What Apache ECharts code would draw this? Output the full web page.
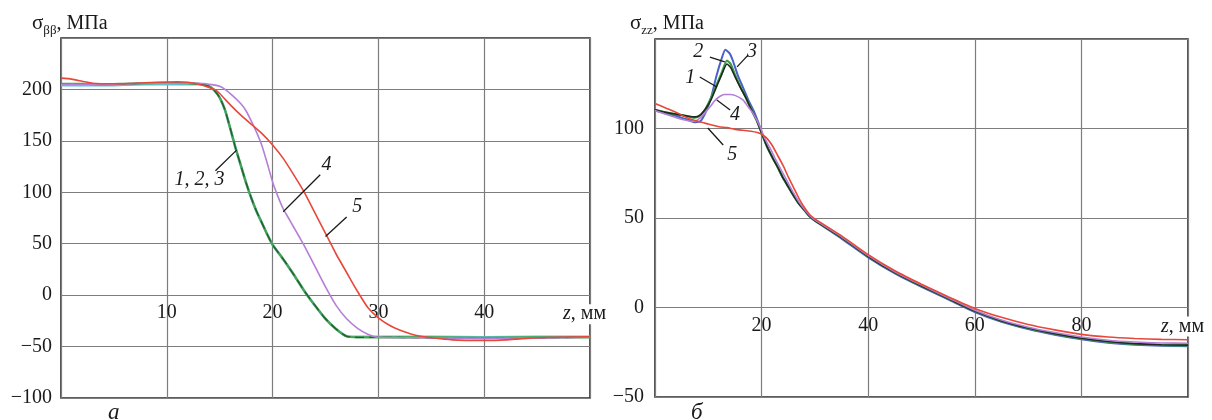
<!DOCTYPE html>
<html><head><meta charset="utf-8">
<script src="https://cdn.jsdelivr.net/npm/echarts@6/dist/echarts.min.js"></script>
<style>html,body{margin:0;padding:0;background:#fff}#c{width:1212px;height:420px}</style>
</head><body><div id="c"></div>
<script>
// ---------- data: left panel (а) sigma_beta-beta vs z ----------
const leftS1 = [[0,205],[2,205],[4,205],[6,205.5],[8,206],[10,206],[12,206],[13,205.5],[14,203],[14.5,199],[15,192],[15.5,180],[16,162],[16.5,143],[17,126],[17.5,109],[18,94],[18.5,81],[19,70],[19.5,59],[20,49],[21,35],[22,20],[23,4],[24,-10],[25,-23],[26,-33],[27,-40],[28,-41],[30,-41],[35,-41.5],[40,-42],[45,-41.5],[50,-41]];
const leftS2 = [[0,205.5],[2,205.5],[4,205],[6,205.5],[8,206],[10,206.5],[12,206],[13,205.5],[14,203],[14.5,199],[15,192],[15.5,180],[16,162],[16.5,143],[17,126],[17.5,109],[18,94],[18.5,81],[19,70],[19.5,59],[20,49],[21,35],[22,20],[23,4],[24,-10],[25,-23],[26,-33],[27,-40],[28,-41],[30,-41],[35,-41],[40,-41.5],[45,-41],[50,-41]];
const leftS3 = [[0,204],[2,204],[4,204],[6,204.5],[8,205],[10,205],[12,205],[13,205],[14,203],[14.5,199],[15,192],[15.5,180],[16,162],[16.5,143],[17,126],[17.5,109],[18,94],[18.5,81],[19,70],[19.5,59],[20,49],[21,35],[22,20],[23,4],[24,-10],[25,-23],[26,-33],[27,-40],[28,-40.5],[30,-40.5],[35,-40.5],[40,-41],[45,-40.5],[50,-40.5]];
const leftS4 = [[0,205],[2,205],[4,205],[6,205.5],[8,206],[10,206],[12,206],[13,206],[14,205],[15,203],[16,196],[17,186],[17.5,179],[18,169],[18.5,158],[19,145],[19.5,128],[20,110],[20.5,96],[21,84],[21.5,75],[22,66],[22.5,57],[23,48],[24,28],[25,8],[26,-10],[27,-23],[28,-32],[29,-38],[30,-41],[35,-41.5],[40,-42],[45,-41.5],[50,-41]];
const leftS5 = [[0,211],[1,210],[2,208],[3,206],[5,205.5],[7,206],[9,207],[11,207.5],[12,207],[13,205],[14,202],[14.5,200],[15,196],[16,185],[17,175],[18,166],[19,157],[20,146],[21,133],[22,117],[23,100],[24,80],[25,60],[26,40],[27,22],[28,4],[29,-12],[30,-22],[31,-29],[32,-34],[33,-37.5],[34,-40],[35,-41.5],[37,-43.5],[40,-44],[42,-43.5],[44,-42],[47,-41],[50,-40.5]];

// ---------- data: right panel (б) sigma_zz vs z ----------
const rightS1 = [[0,110.5],[2,109],[4,108],[6,107],[7.5,106.5],[8.5,107.5],[9.5,111],[10.5,116],[11.5,123],[12.5,130],[13.5,136],[14.2,134],[15,129],[16,123],[17,117.5],[18,111],[19,105],[20,97.5],[21,90],[22,84],[23,78.5],[24,72.5],[25,67.5],[26,62.5],[27,58],[28,54.5],[29,51],[30,48.5],[35,39],[40,28.5],[45,19.5],[50,12],[55,5],[60,-2],[65,-7.5],[70,-11.5],[75,-14.7],[80,-17.2],[85,-19],[90,-20.2],[95,-20.8],[100,-21]];
const rightS2 = [[0,110.5],[2,109],[4,108],[6,107],[7.5,106],[8.5,107.5],[9.5,111],[10.5,117],[11.5,124],[12.5,131],[13.5,138],[14.2,136],[15,130],[16,123.5],[17,117.5],[18,111],[19,105],[20,97.5],[21,90],[22,84],[23,78.5],[24,72.5],[25,67.5],[26,62.5],[27,58],[28,54.5],[29,51],[30,48.5],[35,39],[40,28.5],[45,19.5],[50,12],[55,5],[60,-2],[65,-7.5],[70,-11.5],[75,-14.7],[80,-17.3],[85,-19.2],[90,-20.4],[95,-21],[100,-21.2]];
const rightS3 = [[0,110],[2,108.5],[4,107],[6,105],[7.5,103.5],[8.5,104],[9.5,109],[10.5,117],[11.5,129],[12.5,139],[13.2,144],[14,142],[14.6,138],[15.5,130],[16.5,123],[17.5,116],[18.5,110],[19.3,104],[20,98],[21,90],[22,84],[23,78.5],[24,72.5],[25,67.5],[26,62.5],[27,58],[28,54.5],[29,51],[30,48.5],[35,38.5],[40,28],[45,19],[50,11.5],[55,4.5],[60,-2.5],[65,-8],[70,-12],[75,-15.2],[80,-17.8],[85,-19.7],[90,-20.8],[95,-21.4],[100,-21.6]];
const rightS4 = [[0,110],[2,108],[4,106],[6,104.5],[7.1,104],[8,104.8],[9,107.5],[10.3,112],[11.2,115.5],[12.2,118],[13,119],[14.1,119],[15,118.5],[16.5,116],[17.5,112],[18.4,108.5],[19.7,101],[20.5,95],[21.6,89],[22.5,83.5],[24,75],[25,69.5],[26,64],[27,59],[28,55],[29,51.5],[30,49],[35,39.5],[40,29],[45,20],[50,12.5],[55,5.5],[60,-1.5],[65,-7],[70,-11],[75,-14],[80,-16.5],[85,-18.3],[90,-19.3],[95,-19.8],[100,-20]];
const rightS5 = [[0,114],[2,111.5],[4,109],[6,106],[8,104],[10,102.5],[12,101],[13.5,100.5],[15,99.5],[16.5,99],[18,98.5],[19.2,97.8],[20,96.8],[21,94.5],[22,90.5],[23,85],[24,79.5],[25,73],[26,67],[27,61],[28,56],[29,52],[30,49.5],[35,40],[40,29.5],[45,20.5],[50,13],[55,6],[60,-0.5],[65,-5.5],[70,-9.5],[75,-12.5],[80,-15],[85,-16.5],[90,-17.3],[95,-17.8],[100,-18]];

// ---------- axes ----------
const leftX = {min:0, max:50, step:10};
const leftY = {min:-100, max:250, step:50};
const rightX = {min:0, max:100, step:20};
const rightY = {min:-50, max:150, step:50};

// ---------- annotations (data coordinates) ----------
const leftLabels = [{t:'1, 2, 3', x:13.1, y:112}, {t:'4', x:25.1, y:126.5}, {t:'5', x:28.0, y:85.6}];
const leftLeaders = [[14.6,121,16.6,141],[21.0,81,24.5,117],[25.0,57,27.0,76]];
const rightLabels = [{t:'2', x:8.1, y:142.7}, {t:'3', x:18.2, y:142.7}, {t:'1', x:6.6, y:128.2}, {t:'4', x:15.0, y:107.5}, {t:'5', x:14.5, y:85.2}];
const rightLeaders = [[10.3,139.9,13.1,137.2],[17.5,141.1,15.4,134.4],[8.4,128.8,11.6,123.2],[14.1,110.3,11.6,115.9],[12.8,90.8,9.9,100.3]];

const FONT = '"Liberation Serif","DejaVu Serif",serif';
const GRIDC = '#7d7d7d';
const TXT = '#1a1a1a';
const COLORS = {s1:'#1d2b1f', s2:'#3d9a47', s3:'#4a62c6', s4:'#b47fd6', s5:'#e8483a'};
const LCOLORS = {s1:'#2a5a30', s2:'#46a34c', s3:'#5fc2cf', s4:'#b47fd6', s5:'#e8483a'};

const GRIDS = [
  {left: 61, top: 38, width: 529, height: 360},
  {left: 655, top: 39, width: 533, height: 358}
];

const minus = v => String(v).replace('-', '\u2212');

// x axis drawn at the y = 0 level: offset from the bottom edge by the scale position of zero
function xAxisDef(gi, ax, yax) {
  const zeroOffset = -GRIDS[gi].height * (0 - yax.min) / (yax.max - yax.min);
  return {
    gridIndex: gi, type: 'value', min: ax.min, max: ax.max, interval: ax.step,
    position: 'bottom', offset: zeroOffset,
    axisLine: {show: false, onZero: false},
    axisTick: {show: false},
    splitLine: {show: true, lineStyle: {color: GRIDC, width: 1.2}},
    axisLabel: {margin: 8, fontFamily: FONT, fontSize: 20, color: TXT,
      formatter: v => (v === ax.min || v === ax.max) ? '' : minus(v)},
    name: '{i|z}{n|, мм}', nameLocation: 'end', nameGap: -28,
    nameTextStyle: {verticalAlign: 'top', padding: [10, 0, 0, 0],
      rich: {i: {fontFamily: FONT, fontSize: 20, fontStyle: 'italic', color: TXT, lineHeight: 18, backgroundColor: '#fff', padding: [0, 0, 0, 1]},
             n: {fontFamily: FONT, fontSize: 20, color: TXT, lineHeight: 18, backgroundColor: '#fff', padding: [0, 1, 0, 0]}}}
  };
}
function yAxisDef(gi, ax, margin) {
  return {
    gridIndex: gi, type: 'value', min: ax.min, max: ax.max, interval: ax.step,
    axisLine: {show: false, onZero: false}, axisTick: {show: false},
    splitLine: {show: true, lineStyle: {color: GRIDC, width: 1.2}},
    axisLabel: {margin: margin, fontFamily: FONT, fontSize: 20, color: TXT,
      formatter: v => v === ax.max ? '' : minus(v)}
  };
}
function lineSeries(gi, data, color, width, extra) {
  return Object.assign({
    type: 'line', xAxisIndex: gi, yAxisIndex: gi, data: data, showSymbol: false, smooth: 0.2,
    lineStyle: {color: color, width: width}, itemStyle: {color: color}, silent: true
  }, extra || {});
}
function annot(labels, leaders) {
  return {
    markPoint: {symbol: 'circle', symbolSize: 1, itemStyle: {color: 'rgba(0,0,0,0)'}, silent: true,
      label: {show: true, position: 'inside', formatter: p => p.name, fontFamily: FONT, fontStyle: 'italic', fontSize: 20, color: TXT},
      data: labels.map(l => ({name: l.t, coord: [l.x, l.y]}))},
    markLine: {symbol: ['none', 'none'], silent: true, label: {show: false},
      lineStyle: {color: TXT, width: 1.3, type: 'solid'},
      emphasis: {disabled: true},
      data: leaders.map(l => [{coord: [l[0], l[1]]}, {coord: [l[2], l[3]]}])}
  };
}

const titleRich = {
  s: {fontFamily: FONT, fontSize: 21, fontWeight: 'normal', color: TXT},
  b: {fontFamily: FONT, fontSize: 13, fontWeight: 'normal', color: TXT, verticalAlign: 'bottom', padding: [0, 0, -3, 0]},
  n: {fontFamily: FONT, fontSize: 20, fontWeight: 'normal', color: TXT}
};

const chart = echarts.init(document.getElementById('c'), null, {renderer: 'canvas'});
chart.setOption({
  animation: false,
  backgroundColor: '#fff',
  title: [
    {text: '{s|σ}{b|ββ}{n|, МПа}', left: 27, top: 8, textStyle: {fontWeight: 'normal', rich: titleRich}},
    {text: '{s|σ}{b|zz}{n|, МПа}', left: 625, top: 8, textStyle: {fontWeight: 'normal', rich: titleRich}},
    {text: 'а', left: 103, top: 396, textStyle: {fontFamily: FONT, fontStyle: 'italic', fontWeight: 'normal', fontSize: 23, color: TXT}},
    {text: 'б', left: 686, top: 396, textStyle: {fontFamily: FONT, fontStyle: 'italic', fontWeight: 'normal', fontSize: 23, color: TXT}}
  ],
  grid: GRIDS.map(g => Object.assign({show: true, borderColor: '#2a2a2a', borderWidth: 1.6, backgroundColor: 'rgba(0,0,0,0)'}, g)),
  xAxis: [xAxisDef(0, leftX, leftY), xAxisDef(1, rightX, rightY)],
  yAxis: [yAxisDef(0, leftY, 9), yAxisDef(1, rightY, 11)],
  series: [
    lineSeries(0, leftS3, LCOLORS.s3, 2.6),
    lineSeries(0, leftS2, LCOLORS.s2, 2.2),
    lineSeries(0, leftS1, LCOLORS.s1, 1.3, {lineStyle: {color: LCOLORS.s1, width: 1.3, type: [9, 5]}}),
    lineSeries(0, leftS4, LCOLORS.s4, 1.6),
    lineSeries(0, leftS5, LCOLORS.s5, 1.6, annot(leftLabels, leftLeaders)),
    lineSeries(1, rightS3, COLORS.s3, 2.0),
    lineSeries(1, rightS2, COLORS.s2, 2.2),
    lineSeries(1, rightS1, COLORS.s1, 1.6),
    lineSeries(1, rightS4, COLORS.s4, 1.6),
    lineSeries(1, rightS5, COLORS.s5, 1.6, annot(rightLabels, rightLeaders))
  ]
});
</script></body></html>
